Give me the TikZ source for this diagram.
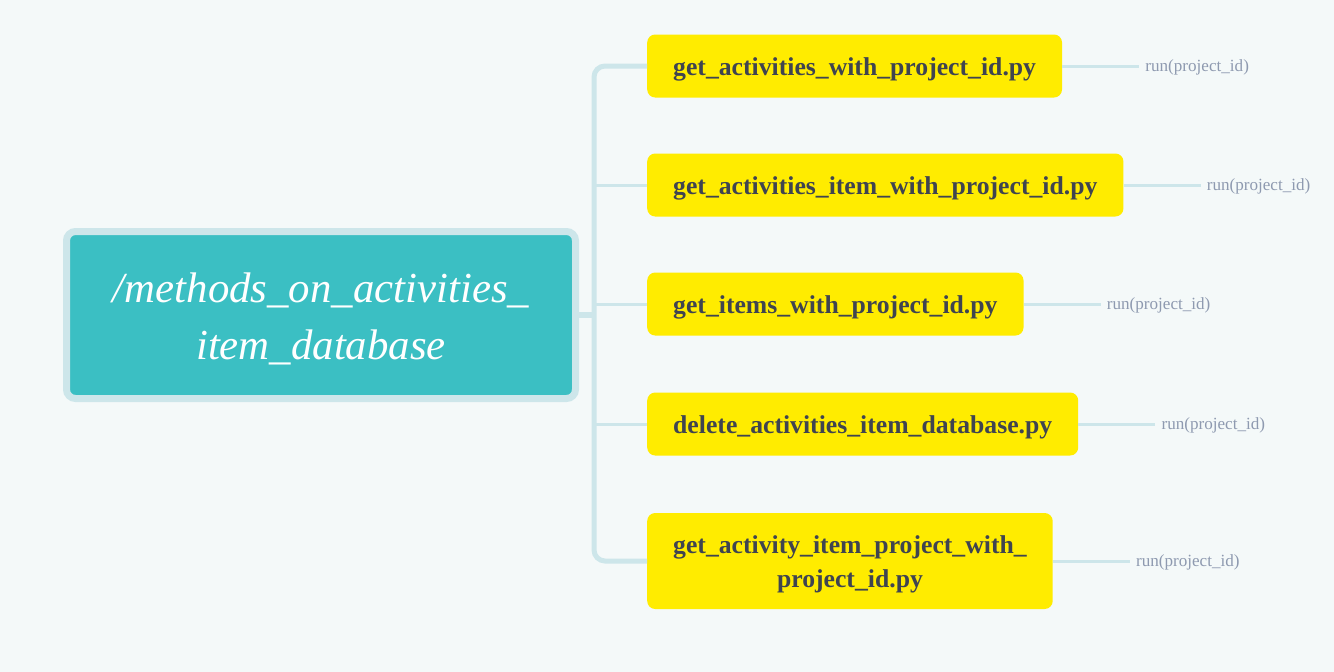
\documentclass[tikz,border=0pt]{standalone}
\usepackage{fontspec}
\setmainfont{Liberation Serif}
\usetikzlibrary{positioning}
\definecolor{bgcol}{HTML}{F4F9F9}
\definecolor{rootcol}{HTML}{3BBFC3}
\definecolor{linecol}{HTML}{CDE6EA}
\definecolor{filecol}{HTML}{FFEC00}
\definecolor{filetext}{HTML}{3F4450}
\definecolor{runtext}{HTML}{8E9AB0}
\newcommand\liftroot{\rule{0pt}{37pt}}
\newcommand\liftfile{\rule{0pt}{24pt}}
\tikzset{
    rootbox/.style={draw=linecol, line width=7pt, fill=rootcol, rounded corners=9pt,
        minimum width=509pt, minimum height=167pt, align=center, text=white,
        font=\itshape\fontsize{42.8}{57}\selectfont},
    filebox/.style={fill=filecol, rounded corners=8pt, anchor=west, minimum height=63pt,
        inner xsep=26pt, align=center, text=filetext,
        font=\bfseries\fontsize{25.7}{34}\selectfont},
    runlabel/.style={inner xsep=6pt, inner ysep=2pt, text=runtext, text height=15.5pt,
        font=\fontsize{17.1}{19}\selectfont},
    branch/.style={draw=linecol, line width=3pt},
}
\begin{document}
\begin{tikzpicture}[x=1pt, y=-1pt]
    \fill[bgcol] (0,0) rectangle (1334,672);
    \useasboundingbox (0,0) rectangle (1334,672);
    \node[rootbox] (root) at (321,315) {\liftroot/methods\_on\_activities\_\\item\_database};
    \coordinate (trunk) at (594,315);
    \node[filebox] (f1) at (647,66) {\liftfile get\_activities\_with\_project\_id.py};
    \node[filebox] (f2) at (647,185) {\liftfile get\_activities\_item\_with\_project\_id.py};
    \node[filebox] (f3) at (647,304) {\liftfile get\_items\_with\_project\_id.py};
    \node[filebox] (f4) at (647,424) {\liftfile delete\_activities\_item\_database.py};
    \node[filebox, minimum height=96pt] (f5) at (647,561) {\liftfile get\_activity\_item\_project\_with\_\\project\_id.py};
    % tree lines
    \draw[branch, line width=5pt, rounded corners=11pt] (f1.west) -| (trunk) |- (f5.west);
    \draw[branch, line width=6pt] (root.east) -- (trunk);
    \draw[branch] (trunk |- f2.west) -- (f2.west);
    \draw[branch] (trunk |- f3.west) -- (f3.west);
    \draw[branch] (trunk |- f4.west) -- (f4.west);
    % run labels
    \foreach \i in {1,...,5} {
        \node[runlabel, right=77pt of f\i] (r\i) {run(project\_id)};
        \draw[branch] (f\i.east) -- (r\i.west);
    }
\end{tikzpicture}
\end{document}
